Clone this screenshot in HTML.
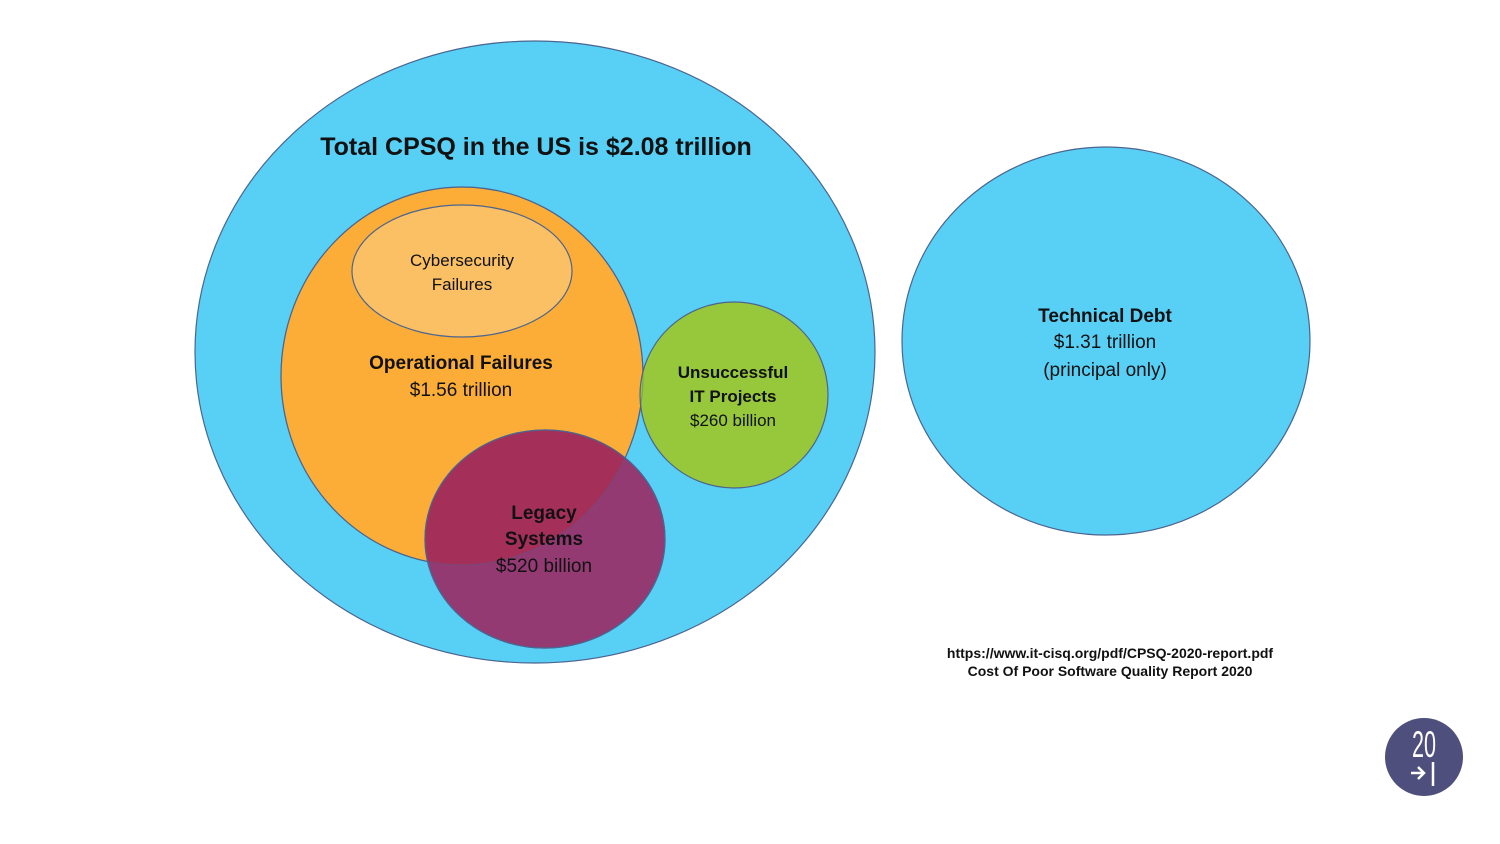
<!DOCTYPE html>
<html><head><meta charset="utf-8"><style>
body{margin:0;background:#fff;}
svg{display:block;font-family:"Liberation Sans",sans-serif;}
</style></head><body>
<svg width="1500" height="844" viewBox="0 0 1500 844">
<defs>
<clipPath id="oc"><ellipse cx="462" cy="376" rx="181" ry="189"/></clipPath>
</defs>
<g stroke="#4b6590" stroke-width="1.2">
<ellipse cx="535" cy="352" rx="340" ry="311" fill="#58D0F6"/>
<ellipse cx="462" cy="376" rx="181" ry="189" fill="#FBAD37"/>
<ellipse cx="462" cy="271" rx="110" ry="66" fill="#FBC063"/>
<ellipse cx="734" cy="395" rx="94" ry="93" fill="#97C83C"/>
<ellipse cx="545" cy="539" rx="120" ry="109" fill="#933A73"/>
<ellipse cx="545" cy="539" rx="120" ry="109" fill="#A4305A" stroke="none" clip-path="url(#oc)"/>
<ellipse cx="462" cy="376" rx="181" ry="189" fill="none" stroke-opacity="0.35"/>
<ellipse cx="545" cy="539" rx="120" ry="109" fill="none"/>
<ellipse cx="1106" cy="341" rx="204" ry="194" fill="#58D0F6"/>
</g>
<g fill="#111" text-anchor="middle">
<text x="536" y="155" font-size="25" font-weight="bold">Total CPSQ in the US is $2.08 trillion</text>
<text x="462" y="266" font-size="17">Cybersecurity</text>
<text x="462" y="290" font-size="17">Failures</text>
<text x="461" y="369" font-size="19" font-weight="bold">Operational Failures</text>
<text x="461" y="396" font-size="19">$1.56 trillion</text>
<text x="733" y="378" font-size="17" font-weight="bold">Unsuccessful</text>
<text x="733" y="402" font-size="17" font-weight="bold">IT Projects</text>
<text x="733" y="426" font-size="17">$260 billion</text>
<text x="544" y="519" font-size="19" font-weight="bold">Legacy</text>
<text x="544" y="545" font-size="19" font-weight="bold">Systems</text>
<text x="544" y="572" font-size="19">$520 billion</text>
<text x="1105" y="322" font-size="19" font-weight="bold">Technical Debt</text>
<text x="1105" y="348" font-size="19">$1.31 trillion</text>
<text x="1105" y="376" font-size="19">(principal only)</text>
<text x="1110" y="658" font-size="14" font-weight="bold">https://www.it-cisq.org/pdf/CPSQ-2020-report.pdf</text>
<text x="1110" y="676" font-size="14" font-weight="bold">Cost Of Poor Software Quality Report 2020</text>
</g>
<g>
<circle cx="1424" cy="757" r="39" fill="#4F4F7E"/>
<text x="1424" y="757" font-size="32" fill="#fff" text-anchor="middle" textLength="24" lengthAdjust="spacingAndGlyphs" transform="translate(1424 757) scale(1 1.15) translate(-1424 -757)">20</text>
<path d="M1411 773 h12 M1418 767 l6 6 -6 6" stroke="#fff" stroke-width="2.5" fill="none"/>
<line x1="1433" y1="762" x2="1433" y2="786" stroke="#fff" stroke-width="2.5"/>
</g>
</svg>
</body></html>
